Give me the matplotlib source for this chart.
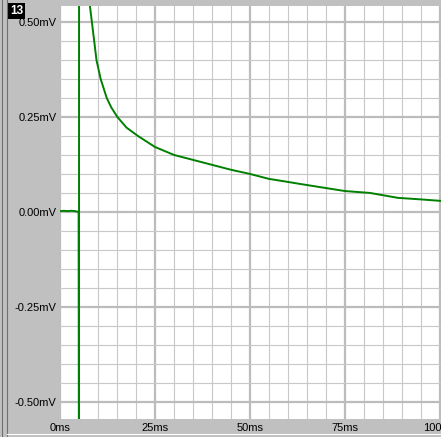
import matplotlib
matplotlib.use("Agg")
import matplotlib.pyplot as plt
from matplotlib.patches import Rectangle
from matplotlib.lines import Line2D

# trace (ms, mV); points outside the window are clipped
t_ms = [0, 1, 2, 3, 4, 4.9, 5.0, 5.02, 6.5, 7.9, 9.0, 9.6, 10.7, 12.3, 13.5,
        15.1, 17.5, 20.5, 25, 30, 35, 40, 45, 50, 55, 60, 63, 68, 75, 81.6,
        89, 95, 100.3]
v_mv = [0.002, 0.003, 0.002, 0.003, 0.002, 0.0, -0.9, 1.2, 0.8, 0.54, 0.45,
        0.40, 0.35, 0.30, 0.275, 0.25, 0.222, 0.20, 0.171, 0.150, 0.137,
        0.124, 0.111, 0.100, 0.087, 0.079, 0.074, 0.066, 0.055, 0.050,
        0.037, 0.033, 0.029]

x_ticks = [0, 25, 50, 75, 100]
x_labels = ["0ms", "25ms", "50ms", "75ms", "100ms"]
y_ticks = [-0.5, -0.25, 0.0, 0.25, 0.5]
y_labels = ["-0.50mV", "-0.25mV", "0.00mV", "0.25mV", "0.50mV"]
channel = "13"

W, H = 441, 437
BG = "#c0c0c0"

plt.rcParams["font.family"] = ["Liberation Sans", "DejaVu Sans"]

fig = plt.figure(figsize=(W / 100, H / 100), dpi=100, facecolor=BG)
ax = fig.add_axes([60 / W, (H - 419) / H, (W - 60) / W, (419 - 6) / H])
ax.set_facecolor("white")

ax.set_xlim(0, 100.3)
ax.set_ylim(-0.545, 0.542)

# grid: minor every 5 ms / 0.05 mV, major every 25 ms / 0.25 mV
ax.set_xticks([i * 5 for i in range(21)], minor=True)
ax.set_yticks([-0.5 + i * 0.05 for i in range(21)], minor=True)
ax.set_xticks(x_ticks)
ax.set_xticklabels(x_labels)
ax.set_yticks(y_ticks)
ax.set_yticklabels(y_labels)
ax.grid(which="minor", color="#c8c8c8", linewidth=0.8)
ax.grid(which="major", color="#bcbcbc", linewidth=1.6)
ax.set_axisbelow(True)
ax.tick_params(which="both", length=0)
ax.tick_params(axis="y", pad=2.5, labelsize=8)
ax.tick_params(axis="x", pad=3, labelsize=8)
for s in ax.spines.values():
    s.set_visible(False)

ax.plot(t_ms, v_mv, color="#008000", linewidth=1.4, solid_joinstyle="miter")

# window chrome
fig.add_artist(Line2D([2 / W, 2 / W], [0, 1], color="#707070", linewidth=0.8))
fig.add_artist(Line2D([7 / W, 7 / W], [0, 1], color="#707070", linewidth=0.8))
fig.add_artist(Line2D([7 / W, 1], [(H - 434) / H] * 2, color="white", linewidth=0.8))
fig.add_artist(Rectangle((8 / W, (H - 19) / H), 17 / W, 16 / H,
                         facecolor="black", edgecolor="none"))
fig.text(16.5 / W, (H - 11) / H, channel, color="white", fontsize=8.5,
         fontweight="bold", ha="center", va="center")

fig.savefig("out.png", dpi=100, facecolor=BG)
